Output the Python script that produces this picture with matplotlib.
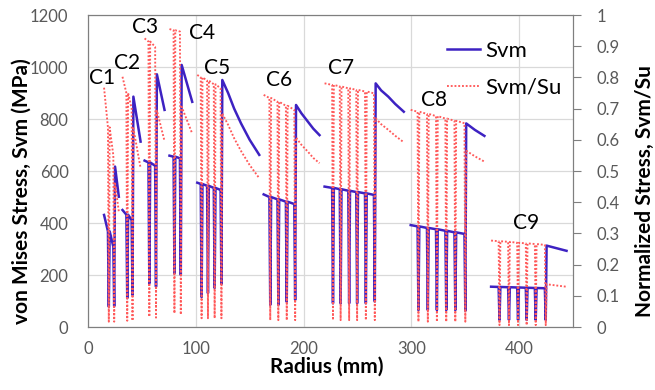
import matplotlib
matplotlib.use('Agg')
import matplotlib.pyplot as plt
from matplotlib.lines import Line2D
import numpy as np

plt.rcParams['font.family'] = ['Lato', 'DejaVu Sans']

# ring names and where their labels sit (radius, MPa)
rings = ['C1', 'C2', 'C3', 'C4', 'C5', 'C6', 'C7', 'C8', 'C9']
label_r = [13, 36, 53, 106, 120, 177, 235, 321, 406]
label_svm = [958, 1014, 1155, 1129, 995, 950, 995, 873, 399]

# inner start of each ring
ring_start = [14.9, 32.0, 52.5, 75.6, 101.4, 163.0, 219.5, 299.4, 374.0]
svm_start = [431, 450, 640, 659, 555, 510, 540, 392, 155]
ratio_start = [0.767, 0.802, 0.925, 0.955, 0.808, 0.744, 0.781, 0.696, 0.277]

# layer interfaces (radius) with value just before the dip and the dip bottom
interfaces = [[19.3, 24.3], [36.4, 41.3], [56.9, 63.1], [80.2, 86.1],
              [105.4, 111.3, 117.5, 123.8],
              [169.1, 176.6, 184.4, 192.2],
              [227.3, 234.4, 242.3, 249.7, 257.8, 266.1],
              [306.6, 315.3, 323.7, 332.4, 340.8, 350.1],
              [381.8, 390.6, 399.0, 407.0, 415.4, 424.7]]
svm_top = [[368, 309], [432, 411], [633, 620], [655, 649],
           [550, 543, 535, 527],
           [500, 491, 482, 473],
           [535, 530, 524, 519, 514, 508],
           [387, 381, 376, 370, 364, 358],
           [154, 153, 152, 151, 150, 149]]
svm_low = [[78, 80], [111, 123], [168, 155], [206, 200],
           [115, 130, 150, 165],
           [85, 85, 97, 104],
           [91, 91, 91, 91, 91, 98],
           [65, 65, 65, 65, 65, 62],
           [27, 27, 27, 27, 27, 27]]
ratio_top = [[0.64, 0.55], [0.75, 0.70], [0.915, 0.898], [0.951, 0.947],
             [0.80, 0.79, 0.778, 0.765],
             [0.734, 0.722, 0.709, 0.696],
             [0.776, 0.771, 0.765, 0.76, 0.755, 0.749],
             [0.69, 0.683, 0.676, 0.668, 0.661, 0.653],
             [0.275, 0.273, 0.27, 0.268, 0.266, 0.263]]
ratio_low = [[0.017, 0.017], [0.02, 0.02], [0.033, 0.03], [0.044, 0.04],
             [0.028, 0.028, 0.028, 0.028],
             [0.022, 0.022, 0.022, 0.022],
             [0.022, 0.022, 0.022, 0.022, 0.022, 0.022],
             [0.017, 0.017, 0.017, 0.017, 0.017, 0.017],
             [0.006, 0.006, 0.006, 0.006, 0.006, 0.006]]

# outer layer of each ring
tail_r = [[25.1, 28.6], [42.1, 48.8], [63.9, 71.0], [86.9, 96.7],
          [124.6, 130, 135.6, 142, 150, 158.9],
          [193.0, 198, 204, 209, 214.8],
          [266.9, 272, 278.6, 285, 293],
          [350.9, 359, 367.8],
          [425.5, 444]]
svm_tail = [[617, 501], [886, 713], [972, 835], [1008, 866],
            [950, 900, 840, 783, 720, 662],
            [854, 822, 790, 763, 738],
            [937, 910, 886, 858, 828],
            [783, 758, 735],
            [313, 293]]
ratio_tail = [[0.46, 0.37], [0.637, 0.509], [0.694, 0.596], [0.706, 0.62],
              [0.684, 0.648, 0.605, 0.564, 0.519, 0.477],
              [0.607, 0.584, 0.562, 0.542, 0.525],
              [0.669, 0.650, 0.632, 0.613, 0.592],
              [0.565, 0.547, 0.53],
              [0.137, 0.129]]

half = 0.8  # half width of the dip at an interface


def build(start, top, low, tail):
    xs, ys = [], []
    for k in range(len(rings)):
        xs.append(ring_start[k])
        ys.append(start[k])
        n = len(interfaces[k])
        for j, r in enumerate(interfaces[k]):
            xs += [r - half, r]
            ys += [top[k][j], low[k][j]]
            if j < n - 1:
                xs.append(r + half)
                ys.append(top[k][j])
        xs += tail_r[k]
        ys += tail[k]
        xs.append(np.nan)
        ys.append(np.nan)
    return xs, ys


blue = '#3D22C2'
red = '#FF5A5A'
grey = '#7F7F7F'
tick_col = '#595959'

fig = plt.figure(figsize=(6.55, 3.9), dpi=100)
ax = fig.add_axes([88 / 655, 63 / 390, 485 / 655, 312 / 390])
ax2 = ax.twinx()

xb, yb = build(svm_start, svm_top, svm_low, svm_tail)
ax.plot(xb, yb, color=blue, lw=1.8)
xr, yr = build(ratio_start, ratio_top, ratio_low, ratio_tail)
ax2.plot(xr, yr, color=red, lw=1.35, linestyle=(0, (1, 1.0)))

for name, r, s in zip(rings, label_r, label_svm):
    ax.text(r, s, name, ha='center', va='center', fontsize=15)

ax.set_xlim(0, 450)
ax.set_ylim(0, 1200)
ax2.set_ylim(0, 1)
ax.set_xticks([0, 100, 200, 300, 400])
ax.set_yticks(np.arange(0, 1201, 200))
ax2.set_yticks(np.arange(0, 1.01, 0.1))
ax2.set_yticklabels(['0', '0.1', '0.2', '0.3', '0.4', '0.5', '0.6', '0.7', '0.8', '0.9', '1'])

ax.grid(True, color='#D9D9D9', lw=0.9)
ax.set_axisbelow(True)
for sp in ax.spines.values():
    sp.set_color(grey)
for sp in ax2.spines.values():
    sp.set_color(grey)

ax.tick_params(axis='both', length=0, labelsize=12, colors=tick_col)
ax.tick_params(axis='y', pad=14)
ax.tick_params(axis='x', pad=10)
ax2.tick_params(axis='y', direction='out', length=6, color=grey,
                labelsize=12, labelcolor=tick_col, pad=11)

# axis titles placed as in the source (slightly below the plot centre)
fig.text(327 / 655, 1 - 367 / 390, 'Radius (mm)', fontsize=15, fontweight='bold',
         ha='center', va='center')
fig.text(22 / 655, 1 - 191 / 390, 'von Mises Stress, Svm (MPa)', fontsize=15,
         fontweight='bold', rotation=90, ha='center', va='center')
fig.text(645 / 655, 1 - 191 / 390, 'Normalized Stress, Svm/Su', fontsize=15,
         fontweight='bold', rotation=90, ha='center', va='center')

handles = [Line2D([], [], color=blue, lw=1.8),
           Line2D([], [], color=red, lw=1.35, linestyle=(0, (1, 1.0)))]
ax2.legend(handles, ['Svm', 'Svm/Su'], loc='upper left', frameon=False,
           bbox_to_anchor=(436 / 655, 1 - 30 / 390), bbox_transform=fig.transFigure,
           fontsize=16, handlelength=1.5, handletextpad=0.2, labelspacing=0.75,
           borderpad=0)

fig.savefig('out.png', dpi=100)
